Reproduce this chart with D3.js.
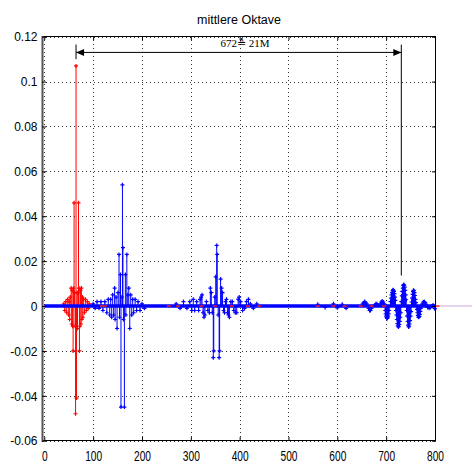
<!DOCTYPE html>
<html><head><meta charset="utf-8">
<script src="https://cdn.jsdelivr.net/npm/d3@7"></script>
<style>body{margin:0;background:#fff}svg{display:block}</style>
</head><body>
<script>
// ---------- data ----------
const title = "mittlere Oktave";
const xTicks = [0,100,200,300,400,500,600,700,800];
const yTicks = [-0.06,-0.04,-0.02,0,0.02,0.04,0.06,0.08,0.1,0.12];
const yTickLabels = ["-0.06","-0.04","-0.02","0","0.02","0.04","0.06","0.08","0.1","0.12"];
// red series stems [sample, value]
const redStems = [[40,0.001],[42,-0.002],[44,0.002],[46,-0.003],[48,0.003],[50,-0.004],[51,0.002],[52,-0.006],[53,0.004],[55,0.008],[56,-0.008],[57,0.007],[58,-0.009],[59,-0.02],[60,0.008],[61,0.046],[62,0.006],[63,-0.009],[64,-0.048],[65,0.107],[66,-0.041],[67,0.006],[68,-0.01],[69,0.006],[70,0.046],[71,0.008],[72,-0.02],[73,-0.009],[74,0.007],[75,-0.008],[76,0.008],[77,-0.006],[78,0.004],[79,-0.005],[80,0.003],[82,-0.003],[84,0.003],[86,-0.002],[88,0.002],[90,-0.001],[92,0.001]];
// red near-zero samples that show through the blue baseline band
const redZero = [118,124,255,274,322,349,384,417,440,560,592,615,648,670,696,805];
// blue series stems [sample, value]
const blueStems = [
 [100,0.001],[104,-0.001],[108,0.002],[112,-0.001],[116,0.002],[120,-0.002],[124,0.002],[128,-0.003],[131,0.003],[134,-0.004],[136,0.003],[138,-0.005],[140,0.005],[142,-0.004],[144,0.008],[145,-0.006],[147,0.004],[149,-0.01],[151,0.006],[153,0.023],[154,-0.005],[156,0.014],[157,-0.045],[159,0.004],[160,0.054],[161,0.026],[162,-0.006],[164,-0.045],[166,0.014],[167,-0.004],[169,0.023],[171,0.005],[173,0.008],[175,-0.01],[177,0.005],[179,-0.004],[181,0.003],[183,-0.003],[186,0.003],[189,-0.002],[192,0.002],[196,-0.002],[200,0.001],[205,-0.001],
 [270,0.001],[278,-0.001],[285,0.002],[292,-0.001],[298,0.002],[302,-0.002],[305,0.003],[308,-0.002],[312,0.002],[316,-0.002],[319,0.003],[321,0.004],[323,0.005],[325,-0.003],[327,-0.005],[329,-0.004],[332,0.002],[335,-0.002],[338,-0.003],[340,0.008],[342,0.006],[344,-0.003],[346,-0.023],[347,-0.02],[349,0.004],[351,0.013],[353,0.027],[354,0.023],[356,-0.004],[358,-0.023],[359,-0.02],[361,0.012],[363,0.008],[365,0.006],[367,-0.002],[369,-0.003],[371,0.002],[373,0.003],[375,-0.003],[377,-0.004],[379,-0.005],[382,0.002],[385,0.002],[388,-0.002],[391,-0.003],[394,-0.003],[397,0.003],[399,0.004],[402,0.002],[406,-0.002],[410,-0.001],[414,0.002],[418,0.003],[422,0.001],[428,-0.001],[435,0.001],
 [560,0.0008],[575,-0.0006],[592,0.001],[600,-0.0008],[610,0.0008],[618,-0.001],
 [652,0.001],[654,0.0015],[656,0.002],[658,0.0015],[660,0.001],[664,-0.001],[666,-0.002],[668,-0.002],[670,-0.001],[677,0.0005],[679,0.001],[681,0.001],[683,0.0005],
 [688,0.001],[690,0.0018],[692,0.0022],[694,0.0018],[696,0.001],
 [698,-0.002],[699,-0.0035],[700,-0.0045],[701,-0.0052],[702,-0.0055],[703,-0.0052],[704,-0.0045],[705,-0.0035],[706,-0.002],
 [709,0.002],[710,0.0035],[711,0.005],[712,0.006],[713,0.0068],[714,0.0072],[715,0.007],[716,0.0065],[717,0.0055],[718,0.004],[719,0.0025],
 [720,-0.002],[721,-0.004],[722,-0.006],[723,-0.0078],[724,-0.0088],[725,-0.0093],[726,-0.009],[727,-0.0082],[728,-0.0068],[729,-0.005],[730,-0.003],
 [731,0.002],[732,0.0045],[733,0.0065],[734,0.008],[735,0.0092],[736,0.0096],[737,0.0093],[738,0.0084],[739,0.007],[740,0.005],[741,0.0028],
 [742,-0.002],[743,-0.0045],[744,-0.0068],[745,-0.0085],[746,-0.0093],[747,-0.009],[748,-0.008],[749,-0.0065],[750,-0.0045],[751,-0.0025],
 [752,0.0018],[753,0.0035],[754,0.0052],[755,0.0064],[756,0.007],[757,0.0068],[758,0.006],[759,0.0047],[760,0.003],[761,0.0015],
 [763,-0.0015],[764,-0.003],[765,-0.0042],[766,-0.0049],[767,-0.005],[768,-0.0046],[769,-0.0037],[770,-0.0024],[771,-0.001],
 [774,0.001],[776,0.0018],[778,0.002],[780,0.0015],[782,0.0008],[785,-0.0006],[788,-0.001],[791,-0.0006],[796,0.0005],[799,-0.001],[800,-0.0012]
];
// annotation: distance arrow between the two marked samples
const arrowFrom = 65, arrowTo = 731, arrowLevel = 0.113;
const arrowLabel = "672\u2259 21M";
const markTop = 0.1165, markLeftBottom = 0.110, markRightBottom = 0.0136;

// ---------- layout ----------
const W = 472, H = 463;
const box = {l:42, r:436, t:36, b:441};
const x = d3.scaleLinear().domain([0,800]).range([44.3,435]);
const y = d3.scaleLinear().domain([-0.06,0.12]).range([440.7,36.7]);

const svg = d3.select("body").append("svg").attr("width",W).attr("height",H)
  .style("font-family","'Liberation Sans', Arial, sans-serif");

// grid
const grid = svg.append("g").attr("stroke","#333").attr("stroke-width",1).attr("stroke-dasharray","1,3").attr("shape-rendering","crispEdges");
grid.selectAll("line.gx").data(xTicks).join("line").attr("class","gx")
  .attr("x1",d=>Math.round(x(d))+0.5).attr("x2",d=>Math.round(x(d))+0.5).attr("y1",box.t).attr("y2",box.b);
grid.selectAll("line.gy").data(yTicks).join("line").attr("class","gy")
  .attr("y1",d=>Math.round(y(d))+0.5).attr("y2",d=>Math.round(y(d))+0.5).attr("x1",box.l).attr("x2",box.r);

// faint baseline continuation outside the axes
svg.append("line").attr("x1",box.r).attr("x2",W).attr("y1",y(0)).attr("y2",y(0))
  .attr("stroke","#e6d4ee").attr("stroke-width",2);

// stem plot helper
function stems(data, color, g){
  g.selectAll("line.s").data(data).join("line").attr("class","s")
    .attr("x1",d=>x(d[0])).attr("x2",d=>x(d[0])).attr("y1",y(0)).attr("y2",d=>y(d[1]))
    .attr("stroke",color).attr("stroke-width",1);
  g.selectAll("path.m").data(data).join("path").attr("class","m")
    .attr("d",d=>{const px=x(d[0]),py=y(d[1]);return `M${px-2},${py}H${px+2}M${px},${py-2}V${py+2}`;})
    .attr("stroke",color).attr("stroke-width",1.2).attr("fill","none");
}
const gRed = svg.append("g");
gRed.append("line").attr("x1",x(0)).attr("x2",x(800)).attr("y1",y(0)).attr("y2",y(0)).attr("stroke","#f00").attr("stroke-width",1);
stems(redStems,"#ff0000",gRed);
const gBlue = svg.append("g");
stems(blueStems,"#0000ff",gBlue);
gBlue.append("line").attr("x1",x(0)).attr("x2",x(800)).attr("y1",y(0)).attr("y2",y(0)).attr("stroke","#0000ff").attr("stroke-width",3.6);
svg.append("g").selectAll("line").data(redZero).join("line")
  .attr("x1",d=>x(d)-2).attr("x2",d=>x(d)+2).attr("y1",y(0)).attr("y2",y(0))
  .attr("stroke","#ff2020").attr("stroke-width",1.4);

// axes box
svg.append("rect").attr("x",box.l+0.5).attr("y",box.t+0.5).attr("width",box.r-box.l-1).attr("height",box.b-box.t-1)
  .attr("fill","none").attr("stroke","#000").attr("stroke-width",1).attr("shape-rendering","crispEdges");
svg.append("line").attr("x1",box.l+0.5).attr("x2",box.l+0.5).attr("y1",box.t).attr("y2",box.b+1)
  .attr("stroke","#555").attr("stroke-width",2);

// ticks (inward) via d3 axes
const axB = svg.append("g").attr("transform",`translate(0,${box.b})`)
  .call(d3.axisBottom(x).tickValues(xTicks).tickSize(-4).tickFormat(d3.format("d")).tickPadding(9));
axB.select(".domain").remove();
axB.selectAll(".tick line").attr("stroke","#000");
axB.selectAll(".tick text").attr("font-size",15).attr("fill","#000")
  .attr("transform","scale(0.68,1)").attr("x",0).attr("text-anchor","middle");

const axT = svg.append("g").attr("transform",`translate(0,${box.t})`)
  .call(d3.axisTop(x).tickValues(xTicks).tickSize(-4).tickFormat(""));
axT.select(".domain").remove();

const axL = svg.append("g").attr("transform",`translate(${box.l},0)`)
  .call(d3.axisLeft(y).tickValues(yTicks).tickSize(-4).tickFormat((d,i)=>yTickLabels[i]).tickPadding(9));
axL.select(".domain").remove();
axL.selectAll(".tick text").attr("font-size",12).attr("fill","#000").attr("dy","0.35em")
  .attr("x",-4.5);
const axR = svg.append("g").attr("transform",`translate(${box.r},0)`)
  .call(d3.axisRight(y).tickValues(yTicks).tickSize(-4).tickFormat(""));
axR.select(".domain").remove();

// title
svg.append("text").attr("x",239).attr("y",24).attr("text-anchor","middle")
  .attr("font-size",12.5).attr("fill","#000").text(title);

// annotation
const ann = svg.append("g").attr("stroke","#000").attr("stroke-width",1);
ann.append("line").attr("x1",x(arrowFrom)).attr("x2",x(arrowTo)).attr("y1",y(arrowLevel)).attr("y2",y(arrowLevel));
ann.append("line").attr("x1",x(arrowFrom)).attr("x2",x(arrowFrom)).attr("y1",y(markTop)).attr("y2",y(markLeftBottom));
ann.append("line").attr("x1",x(arrowTo)).attr("x2",x(arrowTo)).attr("y1",y(markTop)).attr("y2",y(markRightBottom));
const ay = y(arrowLevel);
svg.append("path").attr("d",`M${x(arrowFrom)},${ay}l8,-3.5v7z`).attr("fill","#000");
svg.append("path").attr("d",`M${x(arrowTo)},${ay}l-8,-3.5v7z`).attr("fill","#000");
svg.append("text").attr("x",245).attr("y",47).attr("text-anchor","middle")
  .attr("font-family","'Liberation Serif','Times New Roman',serif").attr("font-size",11).attr("fill","#000")
  .text(arrowLabel);
</script>
</body></html>
